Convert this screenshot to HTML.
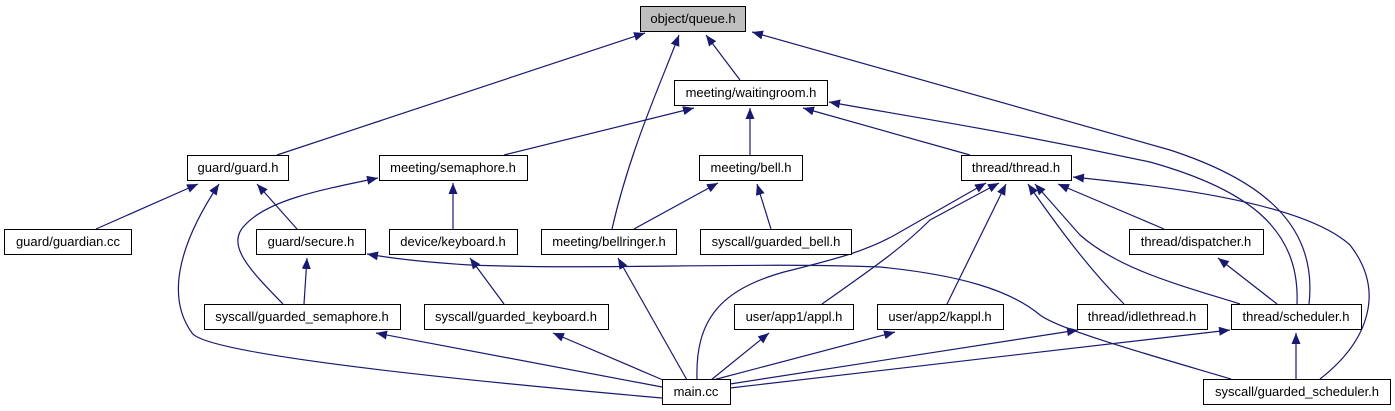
<!DOCTYPE html>
<html><head><meta charset="utf-8"><style>
html,body{margin:0;padding:0;background:#fff;}
svg{display:block;}
text{font-family:"Liberation Sans",sans-serif;font-size:13px;fill:#000;text-anchor:middle;}
</style></head><body>
<svg width="1395" height="411" viewBox="0 0 1395 411" xmlns="http://www.w3.org/2000/svg">
<defs>
<marker id="a" markerUnits="userSpaceOnUse" markerWidth="12" markerHeight="10" refX="11" refY="4.5" orient="auto">
<path d="M0,0 L11,4.5 L0,9 z" fill="#191970"/>
</marker>
</defs>
<g fill="none" stroke="#191970" stroke-width="1.2" marker-end="url(#a)">
<path d="M277,155 L645,33"/>
<path d="M612,229 C630,150 660,85 679,35"/>
<path d="M740,80 L706,35"/>
<path d="M1309,304 C1318,225 1262,180 1170,150 L752,32"/>
<path d="M504,155 L694,108"/>
<path d="M750,155 L750,108"/>
<path d="M970,155 L803,108"/>
<path d="M1297,304 C1300,230 1250,190 1150,162 C1000,130 900,115 829,102"/>
<path d="M96,229 L198,184"/>
<path d="M662,398 C400,375 205,352 192,333 C168,300 175,250 219,184"/>
<path d="M297,229 L257,184"/>
<path d="M283,304 C250,270 225,245 245,225 C268,200 320,190 378,178"/>
<path d="M453,229 L453,183"/>
<path d="M304,304 L307,258"/>
<path d="M1231,379 C1150,355 1060,330 1040,315 C1010,290 960,275 880,267 C750,262 600,270 470,265 C420,262 390,258 367,254"/>
<path d="M504,304 L470,258"/>
<path d="M687,380 L618,258"/>
<path d="M662,387 L376,333"/>
<path d="M663,380 L553,333"/>
<path d="M634,229 L718,183"/>
<path d="M771,229 L757,184"/>
<path d="M697,380 C695,320 720,290 784,272 C840,258 870,250 900,232 L986,183"/>
<path d="M822,304 C870,270 900,250 930,220 L999,183"/>
<path d="M947,304 L1006,184"/>
<path d="M1124,304 C1090,270 1060,230 1028,184"/>
<path d="M1240,304 C1180,285 1120,270 1080,235 L1035,184"/>
<path d="M1164,229 L1058,184"/>
<path d="M1320,379 C1370,340 1385,290 1350,245 C1300,200 1150,185 1073,177"/>
<path d="M1277,304 L1218,258"/>
<path d="M1296,379 L1296,333"/>
<path d="M730,388 L1230,330"/>
<path d="M730,384 L1078,330"/>
<path d="M713,380 L895,332"/>
<path d="M711,380 L769,333"/>
</g>
<g stroke="#000" stroke-width="1" fill="#fff">
<rect x="640.5" y="6.5" width="105" height="25" fill="#bfbfbf"/>
<rect x="674.5" y="80.5" width="153" height="25"/>
<rect x="187.5" y="155.5" width="101" height="25"/>
<rect x="379.5" y="155.5" width="148" height="25"/>
<rect x="699.5" y="155.5" width="103" height="25"/>
<rect x="961.5" y="155.5" width="110" height="25"/>
<rect x="4.5" y="229.5" width="127" height="25"/>
<rect x="256.5" y="229.5" width="109" height="25"/>
<rect x="389.5" y="229.5" width="128" height="25"/>
<rect x="541.5" y="229.5" width="135" height="25"/>
<rect x="700.5" y="229.5" width="151" height="25"/>
<rect x="1129.5" y="229.5" width="134" height="25"/>
<rect x="204.5" y="304.5" width="196" height="25"/>
<rect x="424.5" y="304.5" width="184" height="25"/>
<rect x="734.5" y="304.5" width="119" height="25"/>
<rect x="877.5" y="304.5" width="126" height="25"/>
<rect x="1077.5" y="304.5" width="130" height="25"/>
<rect x="1231.5" y="304.5" width="130" height="25"/>
<rect x="662.5" y="379.5" width="68" height="25"/>
<rect x="1203.5" y="379.5" width="187" height="25"/>
</g>
<g>
<text x="693" y="23">object/queue.h</text>
<text x="751" y="97">meeting/waitingroom.h</text>
<text x="238" y="172">guard/guard.h</text>
<text x="453" y="172">meeting/semaphore.h</text>
<text x="751" y="172">meeting/bell.h</text>
<text x="1016" y="172">thread/thread.h</text>
<text x="68" y="246">guard/guardian.cc</text>
<text x="311" y="246">guard/secure.h</text>
<text x="453" y="246">device/keyboard.h</text>
<text x="609" y="246">meeting/bellringer.h</text>
<text x="776" y="246">syscall/guarded_bell.h</text>
<text x="1196" y="246">thread/dispatcher.h</text>
<text x="302" y="321">syscall/guarded_semaphore.h</text>
<text x="516" y="321">syscall/guarded_keyboard.h</text>
<text x="794" y="321">user/app1/appl.h</text>
<text x="940" y="321">user/app2/kappl.h</text>
<text x="1142" y="321">thread/idlethread.h</text>
<text x="1296" y="321">thread/scheduler.h</text>
<text x="696" y="396">main.cc</text>
<text x="1297" y="396">syscall/guarded_scheduler.h</text>
</g>
</svg>
</body></html>
